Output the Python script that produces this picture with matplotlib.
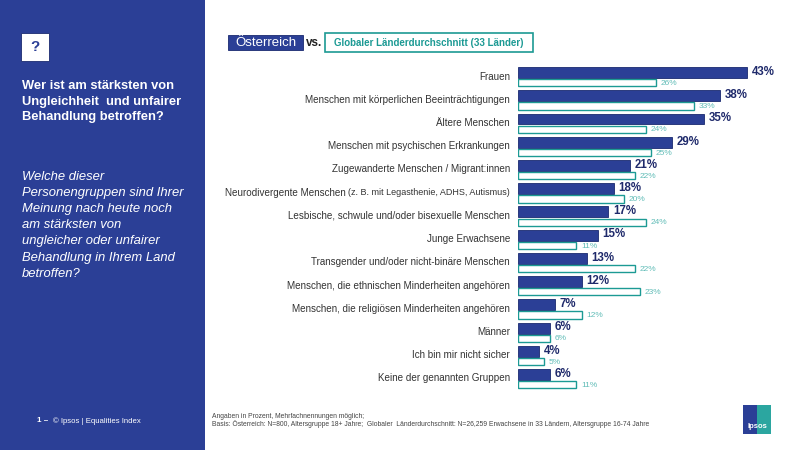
import matplotlib.pyplot as plt
from matplotlib.patches import Rectangle

plt.rcParams['font.family'] = ['Liberation Sans', 'DejaVu Sans']

# Daten
gruppen = [
    "Frauen",
    "Menschen mit körperlichen Beeinträchtigungen",
    "Ältere Menschen",
    "Menschen mit psychischen Erkrankungen",
    "Zugewanderte Menschen / Migrant:innen",
    "Neurodivergente Menschen",
    "Lesbische, schwule und/oder bisexuelle Menschen",
    "Junge Erwachsene",
    "Transgender und/oder nicht-binäre Menschen",
    "Menschen, die ethnischen Minderheiten angehören",
    "Menschen, die religiösen Minderheiten angehören",
    "Männer",
    "Ich bin mir nicht sicher",
    "Keine der genannten Gruppen",
]
oesterreich = [43, 38, 35, 29, 21, 18, 17, 15, 13, 12, 7, 6, 4, 6]
global_avg = [26, 33, 24, 25, 22, 20, 24, 11, 22, 23, 12, 6, 5, 11]

blau = "#2B3F96"
navy = "#1F2A6B"
teal = "#1C9A94"
teal_hell = "#62BDB8"

W, H = 800, 450
fig = plt.figure(figsize=(8, 4.5), dpi=100)
fig.patch.set_facecolor("white")

def fx(px):
    return px / W

def fy(py):
    return 1 - py / H

def kasten(x0, y0, x1, y1, **kw):
    fig.patches.append(Rectangle((fx(x0), fy(y1)), fx(x1 - x0), (y1 - y0) / H,
                                 transform=fig.transFigure, **kw))

# linkes Panel
kasten(0, 0, 205, 450, facecolor=blau, edgecolor="none", zorder=0)
kasten(21, 33, 49, 61, facecolor="white", edgecolor="#1a2a70", lw=0.6, zorder=1)
fig.text(fx(35), fy(47), "?", color=blau, fontsize=11, fontweight="bold",
         ha="center", va="center")

titel = ["Wer ist am stärksten von", "Ungleichheit  und unfairer", "Behandlung betroffen?"]
for i, z in enumerate(titel):
    fig.text(fx(22), fy(86 + i * 15.5), z, color="white", fontsize=9.3,
             fontweight="bold", va="center")

frage = ["Welche dieser", "Personengruppen sind Ihrer", "Meinung nach heute noch",
         "am stärksten von", "ungleicher oder unfairer", "Behandlung in Ihrem Land",
         "betroffen?"]
for i, z in enumerate(frage):
    fig.text(fx(22), fy(177 + i * 16.1), z, color="white", fontsize=9.4,
             style="italic", va="center")

fig.text(fx(37), fy(421), "1 –", color="white", fontsize=5.8, fontweight="bold", va="center")
fig.text(fx(53), fy(421), "© Ipsos | Equalities Index", color="white", fontsize=5.6, va="center")

# Fußnote
fig.text(fx(212), fy(416), "Angaben in Prozent, Mehrfachnennungen möglich;",
         color="#444444", fontsize=4.85, va="center")
fig.text(fx(212), fy(424), "Basis: Österreich: N=800, Altersgruppe 18+ Jahre;  Globaler  Länderdurchschnitt: "
         "N=26,259 Erwachsene in 33 Ländern, Altersgruppe 16-74 Jahre",
         color="#444444", fontsize=4.85, va="center")

# Ipsos Logo
kasten(743, 405, 757, 434, facecolor=blau, edgecolor="none")
kasten(757, 405, 771, 434, facecolor="#2BA6A0", edgecolor="none")
fig.text(fx(757), fy(427), "Ipsos", color="white", fontsize=5.5, fontweight="bold",
         ha="center", va="center")

# Legende oben
kasten(228, 35, 303, 50, facecolor=blau, edgecolor="#1a2a70", lw=0.6)
fig.text(fx(265.5), fy(42.5), "Österreich", color="white", fontsize=9.5,
         ha="center", va="center")
fig.text(fx(306), fy(43), "vs.", color="#222222", fontsize=8.5, fontweight="bold", va="center")
kasten(325, 33.5, 533, 51.5, facecolor="white", edgecolor=teal, lw=1.2)
fig.text(fx(429), fy(42.5), "Globaler Länderdurchschnitt (33 Länder)", color=teal,
         fontsize=7, fontweight="bold", ha="center", va="center")

# Balken
px_pro_zeile = 23.23
y_oben = 60
ax = fig.add_axes([fx(517.5), fy(397), fx(266.7), (397 - y_oben) / H])
n = len(gruppen)
ymax = (397 - 76.5) / px_pro_zeile
ymin = -(76.5 - y_oben) / px_pro_zeile
pos = list(range(n))

ax.barh([p - 0.17 for p in pos], oesterreich, height=0.47, color=blau,
        edgecolor="#1a2a70", linewidth=0.6)
ax.barh([p + 0.27 for p in pos], global_avg, height=0.31, color="white",
        edgecolor=teal, linewidth=1.0)

for p, v in zip(pos, oesterreich):
    ax.text(v + 0.9, p - 0.2, f"{v}%", color=navy, fontsize=8.3, fontweight="bold",
            va="center", ha="left")
for p, v in zip(pos, global_avg):
    ax.text(v + 0.9, p + 0.3, f"{v}%", color=teal_hell, fontsize=6,
            va="center", ha="left")

ax.set_xlim(0, 50)
ax.set_ylim(ymax, ymin)
ax.axis("off")

# Kategorien
for p, g in zip(pos, gruppen):
    if g.startswith("Neurodivergente"):
        klein = ax.text(-1.4, p, "(z. B. mit Legasthenie, ADHS, Autismus)", color="#333333",
                        fontsize=6.5, ha="right", va="center")
        ax.annotate(g + " ", xy=(0, 0.5), xycoords=klein, color="#333333", fontsize=7.1,
                    ha="right", va="center")
    else:
        ax.text(-1.4, p, g, color="#333333", fontsize=7.1, ha="right", va="center")

fig.savefig("out.png", dpi=100)
